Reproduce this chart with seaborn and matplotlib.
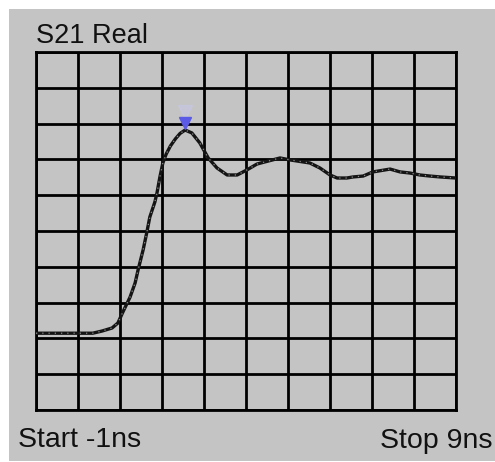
import matplotlib
matplotlib.use("Agg")
import matplotlib.pyplot as plt
from matplotlib.patches import Rectangle
import numpy as np
import pandas as pd
import seaborn as sns

# S21 real-part step response trace (time in ns, value in U, 0.2 U/div)
time_ns = [-1.0, 0.35, 0.57, 0.81, 0.95, 1.07, 1.24, 1.36, 1.43, 1.55, 1.64,
           1.71, 1.83, 1.88, 1.95, 2.02, 2.1, 2.2, 2.32, 2.43, 2.55, 2.71,
           2.9, 3.1, 3.31, 3.55, 3.79, 4.02, 4.26, 4.45, 4.81, 5.05, 5.52,
           5.76, 6.0, 6.17, 6.4, 6.55, 6.79, 7.02, 7.43, 7.67, 7.9, 8.14,
           8.38, 8.62, 9.0]
s21_real = [-0.571, -0.571, -0.559, -0.542, -0.514, -0.452, -0.369, -0.290,
            -0.218, -0.106, -0.006, 0.078, 0.162, 0.212, 0.302, 0.380, 0.430,
            0.475, 0.515, 0.545, 0.564, 0.548, 0.492, 0.408, 0.352, 0.313,
            0.313, 0.341, 0.374, 0.386, 0.408, 0.397, 0.380, 0.352, 0.313,
            0.296, 0.296, 0.302, 0.307, 0.330, 0.346, 0.330, 0.324, 0.313,
            0.307, 0.302, 0.296]

# Marker sits on the peak of the trace
marker_time = 2.55
marker_value = 0.564

title_text = "S21 Real"
start_label = "Start -1ns"
stop_label = "Stop 9ns"

x_min, x_max = -1.0, 9.0
y_min, y_max = -1.0, 1.0
n_div = 10

GRAY = "#c4c4c4"

sns.set_style("white", {"axes.facecolor": GRAY, "axes.edgecolor": "black"})
plt.rcParams["font.family"] = ["Liberation Sans", "DejaVu Sans"]

W, H = 495, 462
fig = plt.figure(figsize=(W / 100, H / 100), dpi=100, facecolor="white")
# gray instrument panel behind the graticule
fig.patches.append(Rectangle((9 / W, 1 / H), 1 - 9 / W, (H - 10) / H,
                             transform=fig.transFigure, facecolor=GRAY,
                             edgecolor="none", zorder=-10))

ax = fig.add_axes([36 / W, (H - 410) / H, 420 / W, 358 / H])
ax.set_zorder(1)
ax.set_facecolor(GRAY)

df = pd.DataFrame({"time": time_ns, "value": s21_real})
sns.lineplot(data=df, x="time", y="value", ax=ax, color="#141414",
             linewidth=2.4, zorder=3, sort=False)
# speckled sample dots along the trace
ax.plot(time_ns, s21_real, color="#8a8a8a", linewidth=0.9,
        linestyle=(0, (1, 4)), zorder=4)

# marker: faint glow plus a blue triangle just above the peak
ax.plot([marker_time], [marker_value + 0.1], marker="v", markersize=10,
        color="#c8c8f0", alpha=0.45, zorder=5, linestyle="none")
ax.plot([marker_time], [marker_value + 0.04], marker="v", markersize=8,
        color="#5a5ae6", zorder=6, linestyle="none")

ax.set_xlim(x_min, x_max)
ax.set_ylim(y_min, y_max)
ax.set_xticks(np.linspace(x_min, x_max, n_div + 1))
ax.set_yticks(np.linspace(y_min, y_max, n_div + 1))
ax.grid(True, color="black", linewidth=2.0, zorder=1)
ax.set_axisbelow(True)
ax.tick_params(length=0, labelbottom=False, labelleft=False)
ax.set_xlabel("")
ax.set_ylabel("")
for s in ax.spines.values():
    s.set_linewidth(2.0)
    s.set_color("black")

fig.text(36 / W, 1 - 43 / H, title_text, fontsize=19.5, color="#111111",
         ha="left", va="baseline")
fig.text(18 / W, 1 - 447 / H, start_label, fontsize=20.5, color="#111111",
         ha="left", va="baseline")
fig.text(493 / W, 1 - 448 / H, stop_label, fontsize=20.5, color="#111111",
         ha="right", va="baseline")

fig.savefig("out.png", dpi=100, facecolor="white")
